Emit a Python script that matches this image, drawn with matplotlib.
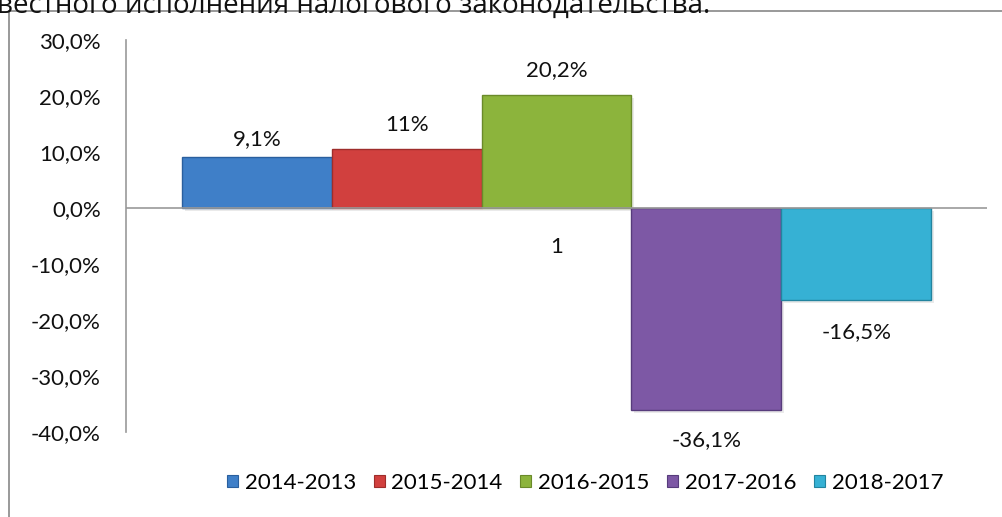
import matplotlib
matplotlib.use("Agg")
import matplotlib.pyplot as plt
from matplotlib.patches import Patch
from matplotlib.lines import Line2D

plt.rcParams['font.family'] = ['Lato', 'DejaVu Sans']

periods = ['2014-2013', '2015-2014', '2016-2015', '2017-2016', '2018-2017']
values = [9.1, 10.5, 20.2, -36.1, -16.5]
value_labels = ['9,1%', '11%', '20,2%', '-36,1%', '-16,5%']
colors = ['#3f7fc8', '#d1403e', '#8cb43c', '#7d58a5', '#36b1d4']
edges = ['#2a5f9e', '#9e2d2b', '#6a8a2a', '#573c7c', '#23849f']
yticks = [30, 20, 10, 0, -10, -20, -30, -40]
category = '1'

fig = plt.figure(figsize=(10.02, 5.17), dpi=100)
ax = fig.add_axes([0.1257, 0.1644, 0.8593, 0.7582])

for i, v in enumerate(values):
    # soft shadow under each bar
    ax.bar(i + 0.02, v, width=1.0, bottom=-0.5,
           color='#bbbbbb', alpha=0.3, zorder=1)
    ax.bar(i, v, width=1.0, color=colors[i], edgecolor=edges[i],
           linewidth=1.0, zorder=2)

label_pos = [12.3, 14.8, 24.6, -41.5, -22.2]
for i, lbl in enumerate(value_labels):
    ax.text(i, label_pos[i], lbl, ha='center', va='center', fontsize=16,
            color='#111111')

ax.text(2, -7.0, category, ha='center', va='center', fontsize=16,
        color='#111111')

ax.axhline(0, color='#999999', linewidth=1.2, zorder=4)
ax.set_xlim(-0.873, 4.873)
ax.set_ylim(-40, 30)
ax.set_yticks(yticks)
ax.set_yticklabels(['{:.1f}%'.format(t).replace('.', ',') for t in yticks],
                   fontsize=16, color='#111111')
ax.set_xticks([])
ax.tick_params(axis='y', length=0, pad=18)
for s in ['top', 'right', 'bottom']:
    ax.spines[s].set_visible(False)
ax.spines['left'].set_color('#999999')
ax.spines['left'].set_linewidth(1.2)

handles = [Patch(facecolor=c, edgecolor=e, linewidth=0.8)
           for c, e in zip(colors, edges)]
fig.legend(handles, periods, loc='center', bbox_to_anchor=(0.584, 0.066),
           ncol=5, frameon=False, fontsize=16, handlelength=0.5,
           handleheight=0.5, handletextpad=0.3, columnspacing=0.8)

# outer frame of the chart area
fig.add_artist(Line2D([0.009, 0.009], [0.0, 0.979], color='#888888',
                      linewidth=1.2, transform=fig.transFigure))
fig.add_artist(Line2D([0.009, 1.0], [0.979, 0.979], color='#888888',
                      linewidth=1.2, transform=fig.transFigure))

# cut-off line of text from the page above
fig.text(-0.003, 0.975, 'вестного исполнения налогового законодательства.',
         fontsize=20, ha='left', va='baseline', color='#111111',
         family=['Open Sans', 'DejaVu Sans'])

fig.savefig('out.png', dpi=100)
